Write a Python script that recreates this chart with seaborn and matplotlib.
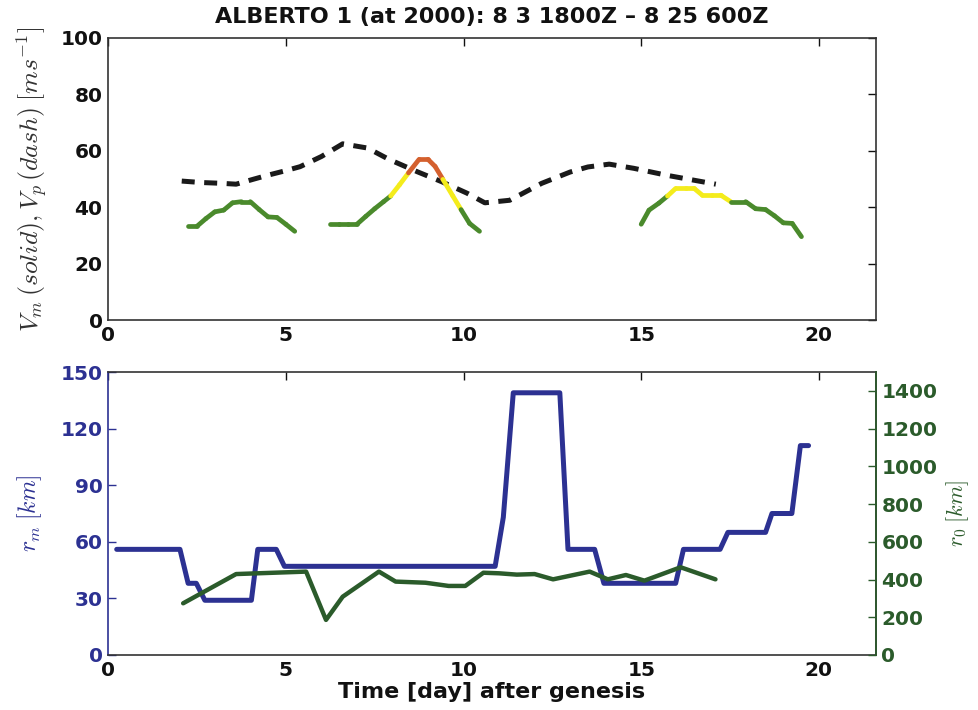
import numpy as np
import pandas as pd
import matplotlib
matplotlib.use("Agg")
import matplotlib.pyplot as plt
import seaborn as sns

# ---------------- data ----------------
# Vp (potential intensity, dashed)
vp_day = [2.07, 2.6, 3.2, 3.6, 4.1, 4.5, 5.0, 5.4, 6.0, 6.6, 7.3, 7.9, 8.7, 9.4,
          10.1, 10.6, 11.3, 12.2, 13.0, 13.5, 14.1, 14.8, 15.7, 16.4, 17.1]
vp_val = [49.3, 48.8, 48.5, 48.2, 50.0, 51.4, 53.0, 54.4, 58.0, 62.5, 61.0, 57.0, 52.6, 49.0,
          45.0, 41.6, 42.5, 48.5, 52.5, 54.3, 55.3, 53.8, 51.4, 49.8, 48.2]

# Vm (maximum wind, solid) - three track pieces, colour category per segment
vm1_day = [2.25, 2.5, 2.75, 3.0, 3.25, 3.5, 3.75, 4.0, 4.25, 4.5, 4.75, 5.0, 5.25]
vm1_val = [33.3, 33.3, 36.0, 38.4, 39.0, 41.6, 42.0, 42.0, 39.2, 36.6, 36.4, 34.0, 31.5]
vm1_cat = ["TS"] * 12

vm2_day = [6.25, 6.5, 6.75, 7.0, 7.25, 7.5, 7.75, 7.95, 8.2, 8.45, 8.75, 9.0, 9.2, 9.42, 9.7, 9.93, 10.17, 10.45]
vm2_val = [34.0, 34.0, 34.0, 34.0, 36.8, 39.5, 42.0, 44.0, 48.0, 52.2, 57.0, 57.0, 54.5, 49.9, 44.0, 39.2, 34.3, 31.5]
vm2_cat = ["TS"] * 7 + ["H1"] * 2 + ["H2"] * 4 + ["H1"] * 2 + ["TS"] * 2

vm3_day = [15.0, 15.22, 15.5, 15.74, 15.97, 16.25, 16.49, 16.72, 17.0, 17.24, 17.52, 17.94,
           18.22, 18.5, 18.75, 19.0, 19.25, 19.51]
vm3_val = [34.0, 39.0, 41.5, 44.0, 46.7, 46.7, 46.7, 44.3, 44.3, 44.3, 42.0, 42.0,
           39.5, 39.2, 37.0, 34.5, 34.3, 29.6]
vm3_cat = ["TS"] * 3 + ["H1"] * 7 + ["TS"] * 7

# rm (radius of max wind, left axis)
rm_day = [0.24, 2.02, 2.25, 2.48, 2.72, 4.03, 4.21, 4.73, 4.96, 10.89, 11.12, 11.4, 12.71,
          12.94, 13.69, 13.95, 15.97, 16.19, 17.22, 17.44, 18.5, 18.68, 19.24, 19.48, 19.71]
rm_val = [56, 56, 38, 38, 29, 29, 56, 56, 47, 47, 73, 139, 139,
          56, 56, 38, 38, 56, 56, 65, 65, 75, 75, 111, 111]

# r0 (outer radius, right axis)
r0_day = [2.11, 3.6, 5.57, 6.13, 6.6, 7.62, 8.09, 8.93, 9.58, 10.05, 10.56, 11.0, 11.5,
          12.0, 12.52, 13.55, 14.06, 14.57, 15.09, 16.11, 17.09]
r0_val = [274, 429, 442, 186, 309, 442, 389, 383, 366, 366, 436, 433, 426,
          429, 401, 442, 401, 424, 394, 465, 401]

top_yticks = [0, 20, 40, 60, 80, 100]
rm_ticks = [0, 30, 60, 90, 120, 150]
r0_ticks = [0, 200, 400, 600, 800, 1000, 1200, 1400]
x_ticks = [0, 5, 10, 15, 20]

title = "ALBERTO 1 (at 2000): 8 3 1800Z \u2013 8 25 600Z"

# ---------------- style ----------------
sns.set_theme(style="white")
plt.rcParams["font.family"] = ["DejaVu Sans"]
plt.rcParams["mathtext.fontset"] = "cm"
plt.rcParams["xtick.direction"] = "in"
plt.rcParams["ytick.direction"] = "in"

cat_color = {"TS": "#4a8a2c", "H1": "#f4ec1c", "H2": "#d4602e"}
blue = "#2c3192"
dgreen = "#2b5b2b"
TICK_FS = 14.5

fig = plt.figure(figsize=(9.79, 7.10), dpi=100)
ax1 = fig.add_axes([0.1105, 0.549, 0.784, 0.3975])
ax2 = fig.add_axes([0.1105, 0.0775, 0.784, 0.3985])

# ---- top panel ----
df_vp = pd.DataFrame({"day": vp_day, "v": vp_val})
sns.lineplot(data=df_vp, x="day", y="v", ax=ax1, color="#1a1a1a", lw=3.6,
             linestyle=(0, (2.6, 1.9)), sort=False)

for d, v, c in [(vm1_day, vm1_val, vm1_cat), (vm2_day, vm2_val, vm2_cat), (vm3_day, vm3_val, vm3_cat)]:
    for i, cat in enumerate(c):
        seg = pd.DataFrame({"day": d[i:i + 2], "v": v[i:i + 2]})
        sns.lineplot(data=seg, x="day", y="v", ax=ax1, color=cat_color[cat], lw=3.4,
                     sort=False, solid_capstyle="round")

ax1.set_xlim(0, 21.6)
ax1.set_ylim(0, 100)
ax1.set_xticks(x_ticks)
ax1.set_yticks(top_yticks)
ax1.set_xlabel("")
ax1.set_ylabel(r"$V_m\,(solid), V_p\,(dash)\;[ms^{-1}]$", fontsize=18.5, color="#333333", labelpad=8)
ax1.set_title(title, fontsize=16, fontweight="bold", pad=11, color="#111111")
ax1.tick_params(axis="both", which="both", top=True, right=True, length=6, width=1,
                labelsize=TICK_FS, colors="#111111", pad=4)
for lab in ax1.get_xticklabels() + ax1.get_yticklabels():
    lab.set_fontweight("bold")
for s in ax1.spines.values():
    s.set_color("#333333")
    s.set_linewidth(1.2)

# ---- bottom panel ----
df_rm = pd.DataFrame({"day": rm_day, "rm": rm_val})
sns.lineplot(data=df_rm, x="day", y="rm", ax=ax2, color=blue, lw=3.6, sort=False)
ax2.set_xlim(0, 21.6)
ax2.set_ylim(0, 150)
ax2.set_xticks(x_ticks)
ax2.set_yticks(rm_ticks)
ax2.set_xlabel("Time [day] after genesis", fontsize=16, fontweight="bold", color="#111111", labelpad=2)
ax2.set_ylabel(r"$r_m\;[km]$", fontsize=17, color=blue, labelpad=12)
ax2.tick_params(axis="x", top=True, length=6, width=1, labelsize=TICK_FS, colors="#111111", pad=4)
ax2.tick_params(axis="y", left=True, right=True, length=6, width=1, labelsize=TICK_FS,
                colors=blue, pad=4)
for lab in ax2.get_xticklabels() + ax2.get_yticklabels():
    lab.set_fontweight("bold")
ax2.spines["left"].set_color(blue)
ax2.spines["top"].set_color("#333333")
ax2.spines["bottom"].set_color("#333333")
for s in ax2.spines.values():
    s.set_linewidth(1.2)

ax3 = ax2.twinx()
df_r0 = pd.DataFrame({"day": r0_day, "r0": r0_val})
sns.lineplot(data=df_r0, x="day", y="r0", ax=ax3, color=dgreen, lw=3.2, sort=False)
ax3.set_ylim(0, 1500)
ax3.set_yticks(r0_ticks)
ax3.set_ylabel(r"$r_0\;[km]$", fontsize=16, color=dgreen, labelpad=5)
ax3.tick_params(axis="y", length=6, width=1, labelsize=TICK_FS, colors=dgreen, pad=4)
for lab in ax3.get_yticklabels():
    lab.set_fontweight("bold")
ax3.spines["right"].set_color(dgreen)
ax3.spines["right"].set_linewidth(1.2)
for k in ["left", "top", "bottom"]:
    ax3.spines[k].set_visible(False)

fig.savefig("out.png", dpi=100)
